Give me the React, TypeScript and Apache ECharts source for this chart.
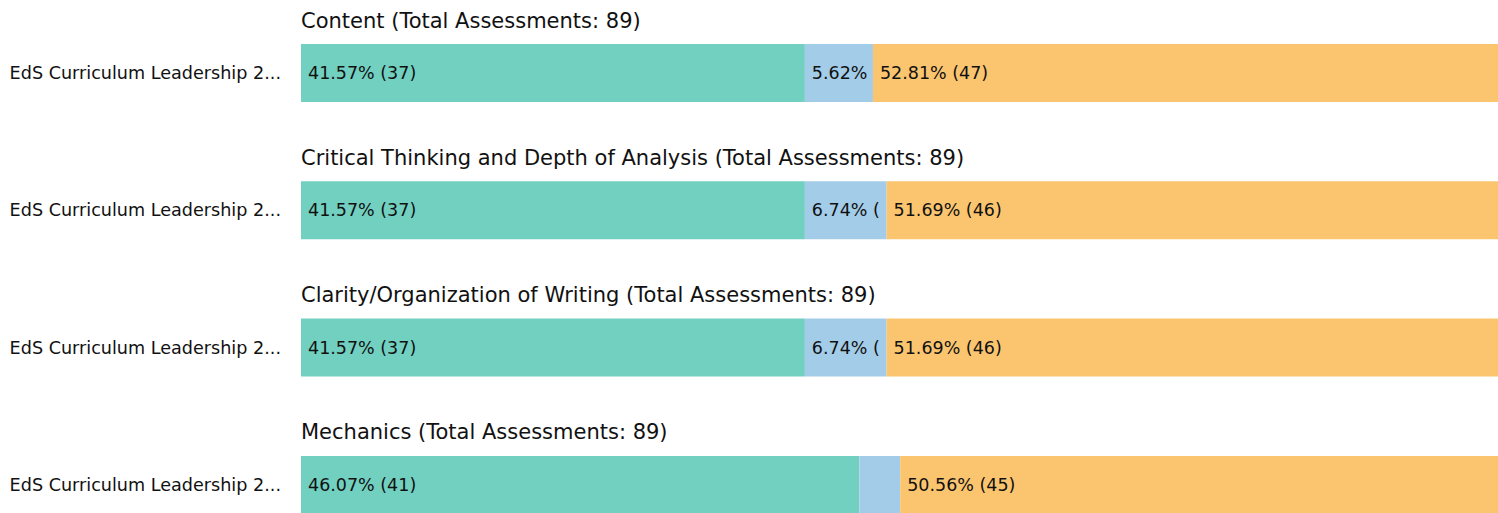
import React, { useEffect, useRef } from "react";
import * as echarts from "echarts";

const programLabel = ["EdS Curriculum Leadership 2..."];
const criteria = [
  "Content",
  "Critical Thinking and Depth of Analysis",
  "Clarity/Organization of Writing",
  "Mechanics",
];
const totalAssessments = [89, 89, 89, 89];
const countsLevel1 = [37, 37, 37, 41];
const countsLevel2 = [5, 6, 6, 3];
const countsLevel3 = [47, 46, 46, 45];
const segmentColors = ["#71D0C0", "#A3CCE8", "#FBC56F"];

const FONT = "DejaVu Sans";

export default function App() {
  const ref = useRef<HTMLDivElement>(null);
  useEffect(() => {
    if (!ref.current) return;
    const chart = echarts.init(ref.current, null, { renderer: "svg" });
    const gridTop0 = 44;
    const gridStep = 137.3;
    const barH = 58;
    const grids: any[] = [];
    const xAxes: any[] = [];
    const yAxes: any[] = [];
    const titles: any[] = [];
    const series: any[] = [];
    criteria.forEach((crit, i) => {
      const top = gridTop0 + i * gridStep;
      grids.push({
        left: 301,
        top,
        width: 1212,
        height: barH,
        outerBoundsMode: "none",
        containLabel: false,
      });
      xAxes.push({ type: "value", gridIndex: i, min: 0, max: 100, show: false });
      yAxes.push({
        type: "category",
        gridIndex: i,
        data: programLabel,
        axisLine: { show: false },
        axisTick: { show: false },
        splitLine: { show: false },
        axisLabel: { fontFamily: FONT, fontSize: 17.6, color: "#111", margin: 20 },
      });
      titles.push({
        text: `${crit} (Total Assessments: ${totalAssessments[i]})`,
        left: 296,
        top: top - 39,
        textStyle: { fontFamily: FONT, fontSize: 21, fontWeight: "normal", color: "#111" },
      });
      const counts = [countsLevel1[i], countsLevel2[i], countsLevel3[i]];
      const total = totalAssessments[i];
      let acc = 0;
      const data = counts.map((c, k) => {
        const pct = (c / total) * 100;
        const item = [acc, acc + pct, k, `${pct.toFixed(2)}% (${c})`];
        acc += pct;
        return item;
      });
      series.push({
        type: "custom",
        xAxisIndex: i,
        yAxisIndex: i,
        data,
        clip: false,
        renderItem: (params: any, api: any) => {
          const s = api.value(0);
          const e = api.value(1);
          const k = api.value(2);
          const d = data[params.dataIndex];
          const p0 = api.coord([s, 0]);
          const p1 = api.coord([e, 0]);
          const h = api.size([0, 1])[1];
          const x0 = p0[0];
          const w = p1[0] - p0[0];
          const y0 = p0[1] - h / 2;
          const children: any[] = [
            {
              type: "rect",
              shape: { x: x0, y: y0, width: w, height: h },
              style: { fill: segmentColors[k] },
            },
          ];
          if (w >= 50) {
            children.push({
              type: "text",
              x: x0 + 7,
              y: p0[1],
              style: {
                text: d[3],
                fill: "#111",
                fontFamily: FONT,
                fontSize: 17.5,
                verticalAlign: "middle",
                align: "left",
                width: w - 7,
                overflow: "truncate",
                ellipsis: "",
              },
            });
          }
          return { type: "group", children };
        },
      });
    });
    chart.setOption({
      animation: false,
      backgroundColor: "#fff",
      title: titles,
      grid: grids,
      xAxis: xAxes,
      yAxis: yAxes,
      series,
    });
    return () => chart.dispose();
  }, []);
  return (
    <div
      ref={ref}
      style={{ position: "fixed", left: 0, top: 0, width: 1498, height: 513 }}
    />
  );
}
